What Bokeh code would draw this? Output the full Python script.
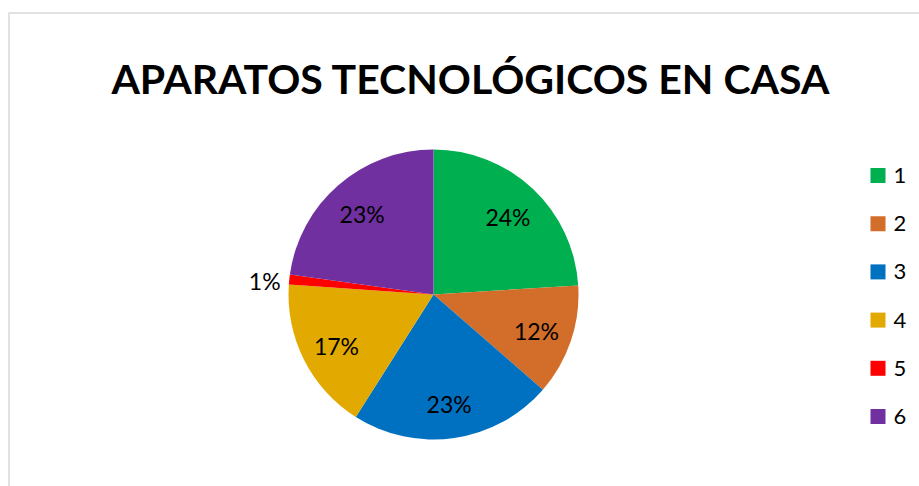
import math
from bokeh.plotting import figure
from bokeh.models import Range1d, ColumnDataSource, BoxAnnotation
from bokeh.core.properties import value
from bokeh.embed import file_html
from bokeh.resources import INLINE

title_text = "APARATOS TECNOLÓGICOS EN CASA"
categories = ["1", "2", "3", "4", "5", "6"]
shares = [24.0, 12.4, 22.6, 17.1, 1.1, 22.8]
colors = ["#00B050", "#D26D2A", "#0070C0", "#E2A900", "#FF0000", "#7030A0"]

W, H = 919, 486
PAGE_H = H  # data y = PAGE_H - page y ; data x = page x

def py(y_page):
    return PAGE_H - y_page

p = figure(width=W, height=H, output_backend="svg", toolbar_location=None,
           x_range=Range1d(0, W), y_range=Range1d(0, H),
           min_border=0)
p.axis.visible = False
p.grid.visible = False
p.outline_line_color = None
p.background_fill_color = "white"
p.border_fill_color = "white"

# chart frame
p.add_layout(BoxAnnotation(left=8.5, right=1200, top=py(12.5), bottom=-700,
                           fill_color=None, line_color="#7f7f7f", line_width=1.5))

cx, cy, r = 433, py(294), 145
total = sum(shares)
starts, ends, mids = [], [], []
acc = 0.0
for v in shares:
    a0 = acc / total * 2 * math.pi
    acc += v
    a1 = acc / total * 2 * math.pi
    starts.append(math.pi / 2 - a1)
    ends.append(math.pi / 2 - a0)
    mids.append((a0 + a1) / 2)

src = ColumnDataSource(dict(start=starts, end=ends, color=colors))
p.wedge(x=cx, y=cy, radius=r, start_angle="start", end_angle="end",
        direction="anticlock", fill_color="color", line_color=None, source=src)

# data labels
lx, ly, lt, la = [], [], [], []
for v, m in zip(shares, mids):
    frac = v / total
    txt = f"{int(round(frac * 100))}%"
    if frac < 0.05:
        d = 1.06 * r
        al = "right" if math.sin(m) < 0 else "left"
    else:
        d = 0.75 * r
        al = "center"
    lx.append(cx + d * math.sin(m))
    ly.append(cy + d * math.cos(m) - 2)
    lt.append(txt)
    la.append(al)
lsrc = ColumnDataSource(dict(x=lx, y=ly, t=lt, a=la))
p.text(x="x", y="y", text="t", text_align="a", text_baseline="middle",
       text_font=value("Lato"), text_font_size="23px", text_color="black", source=lsrc)

# title
p.text(x=[470.5], y=[py(77.5)], text=[title_text], text_align="center",
       text_baseline="alphabetic", text_font=value("Lato"), text_font_style="bold",
       text_font_size="41px", text_color="black")

# legend
leg_y = [py(175 + i * 48.2) for i in range(len(categories))]
p.rect(x=[877.5] * len(categories), y=leg_y, width=15, height=15,
       fill_color=colors, line_color=None)
p.text(x=[893] * len(categories), y=leg_y, text=categories, text_align="left",
       text_baseline="middle", text_font=value("Lato"), text_font_size="22px",
       text_color="black")

open("out.html", "w").write(file_html(p, INLINE))
